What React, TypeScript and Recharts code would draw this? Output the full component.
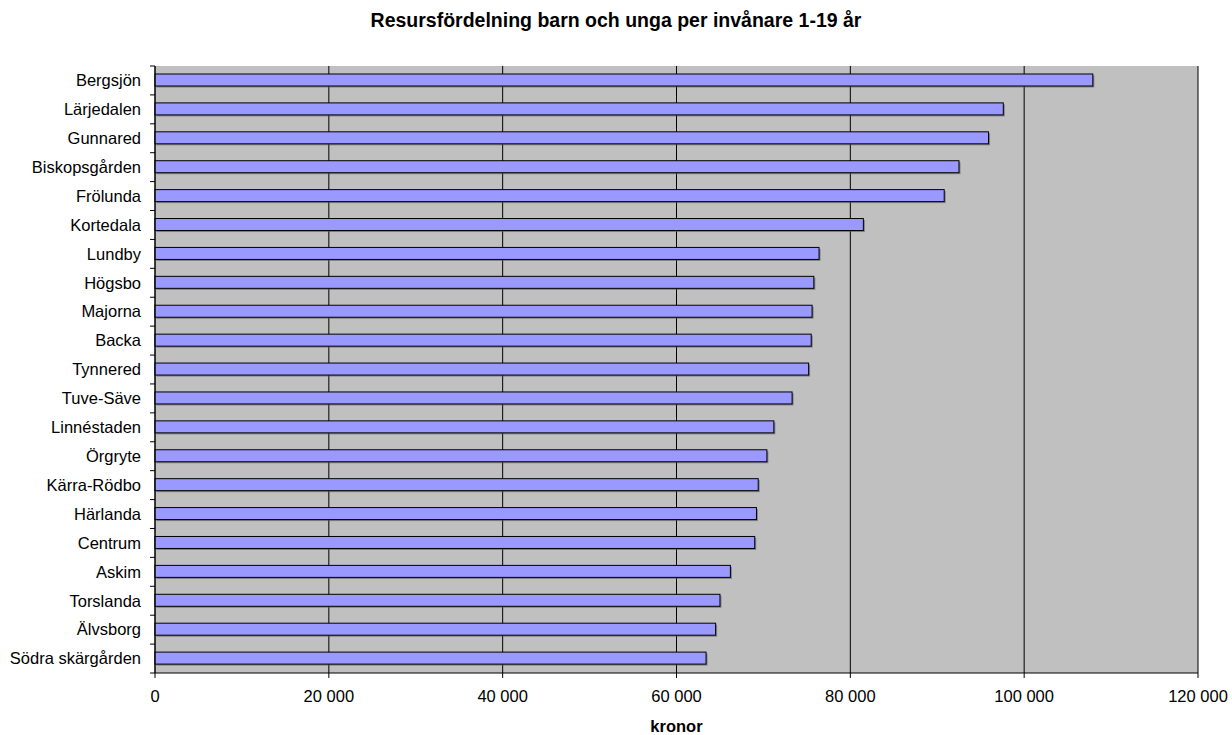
import { BarChart, Bar, XAxis, YAxis, CartesianGrid } from "recharts";

const districts = [
  "Bergsjön",
  "Lärjedalen",
  "Gunnared",
  "Biskopsgården",
  "Frölunda",
  "Kortedala",
  "Lundby",
  "Högsbo",
  "Majorna",
  "Backa",
  "Tynnered",
  "Tuve-Säve",
  "Linnéstaden",
  "Örgryte",
  "Kärra-Rödbo",
  "Härlanda",
  "Centrum",
  "Askim",
  "Torslanda",
  "Älvsborg",
  "Södra skärgården",
];

const kronor = [
  107900, 97600, 95900, 92500, 90800, 81500, 76400, 75800, 75600, 75500, 75200,
  73300, 71200, 70400, 69400, 69200, 69000, 66200, 65000, 64500, 63400,
];

const xTicks = [0, 20000, 40000, 60000, 80000, 100000, 120000];

const data = districts.map((name, i) => ({ name, value: kronor[i] }));

const FONT = "'Liberation Sans', Arial, sans-serif";
const W = 1232;
const H = 735;
const M = { top: 66, right: 34, bottom: 0, left: 0 };
const X_AXIS_H = 62;
const Y_AXIS_W = 155;
const plotH = H - M.top - M.bottom - X_AXIS_H;
const step = plotH / districts.length;

const fmt = (v: number) =>
  v === 0 ? "0" : `${Math.floor(v / 1000)} ${String(v % 1000).padStart(3, "0")}`;

// label plus Excel-style tick marks between categories
function CategoryTick(props: any) {
  const { x, y, payload, index } = props;
  const ax = x + 14;
  return (
    <g>
      <text x={x} y={y} dy="0.35em" textAnchor="end" fill="#000" fontSize={16.5} fontFamily={FONT}>
        {payload.value}
      </text>
      {index === 0 && <line x1={ax - 5} x2={ax} y1={y - step / 2} y2={y - step / 2} stroke="#000" />}
      <line x1={ax - 5} x2={ax} y1={y + step / 2} y2={y + step / 2} stroke="#000" />
    </g>
  );
}

function ShadowBar(props: any) {
  const { x, y, width, height } = props;
  if (!width || width <= 0) return null;
  return (
    <g>
      <rect x={x + 1.5} y={y + 1.5} width={width} height={height} fill="#555" opacity={0.6} />
      <rect x={x} y={y} width={width} height={height} fill="#9999FF" stroke="#000" strokeWidth={1} />
    </g>
  );
}

export default function App() {
  return (
    <div style={{ position: "absolute", left: 0, top: 0, width: W, height: H, background: "#fff" }}>
      <div
        style={{
          position: "absolute",
          left: 0,
          top: 9,
          width: W,
          textAlign: "center",
          fontFamily: FONT,
          fontWeight: "bold",
          fontSize: 19.5,
          color: "#000",
        }}
      >
        Resursfördelning barn och unga per invånare 1-19 år
      </div>
      <BarChart width={W} height={H} data={data} layout="vertical" margin={M} barSize={12}>
        <CartesianGrid horizontal={false} stroke="#000" fill="#C0C0C0" fillOpacity={1} />
        <XAxis
          type="number"
          domain={[0, 120000]}
          ticks={xTicks}
          tickFormatter={fmt}
          height={X_AXIS_H}
          tickSize={5}
          tickMargin={12}
          stroke="#000"
          tick={{ fill: "#000", fontSize: 16.5, fontFamily: FONT }}
          label={{
            value: "kronor",
            position: "insideBottom",
            offset: 3,
            fill: "#000",
            fontSize: 16.5,
            fontWeight: "bold",
            fontFamily: FONT,
          }}
        />
        <XAxis xAxisId="top" type="number" domain={[0, 120000]} orientation="top" height={0} tick={false} tickLine={false} stroke="#808080" />
        <YAxis
          type="category"
          dataKey="name"
          width={Y_AXIS_W}
          tickSize={4}
          tickMargin={10}
          tickLine={false}
          interval={0}
          stroke="#000"
          tick={<CategoryTick />}
        />
        <YAxis yAxisId="r" type="category" dataKey="name" orientation="right" width={0} tick={false} tickLine={false} stroke="#808080" />
        <Bar dataKey="value" isAnimationActive={false} shape={<ShadowBar />} />
      </BarChart>
    </div>
  );
}
